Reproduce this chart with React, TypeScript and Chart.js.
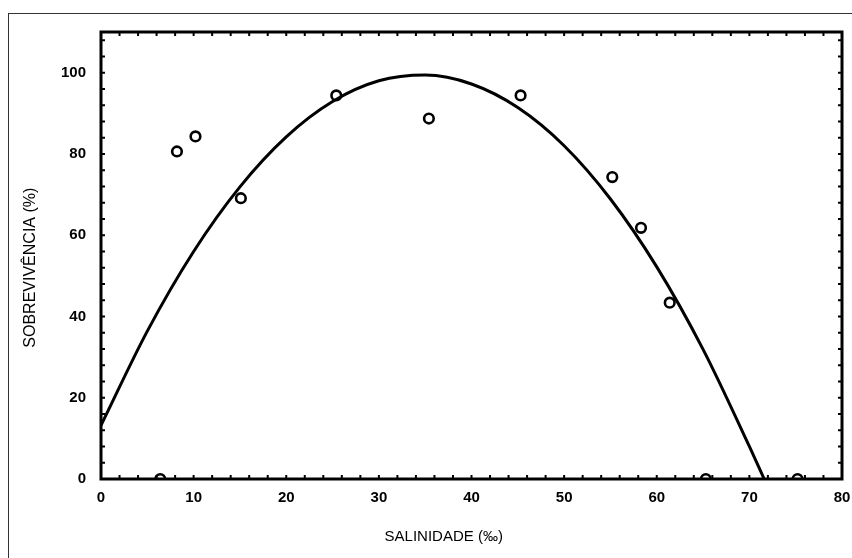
import React, { useEffect, useRef } from "react";
import { Chart, registerables } from "chart.js";

Chart.register(...registerables);

// Observed survival (%) by salinity (‰)
const salinityObs = [6.4, 8.2, 10.2, 15.1, 25.4, 35.4, 45.3, 55.2, 58.3, 61.4, 65.3, 75.2];
const survivalObs = [0, 80.6, 84.3, 69.1, 94.4, 88.7, 94.4, 74.3, 61.8, 43.4, 0, 0];

// Fitted curve
const curveX = [0, 5, 10, 15, 20, 25, 30, 35, 40, 45, 50, 55, 60, 65, 70, 71.6];
const curveY = [13.2, 36.4, 56.0, 71.9, 84.2, 92.9, 98.0, 99.4, 97.2, 91.4, 82.0, 68.9, 52.2, 31.9, 8.0, 0];

const xTitle = "SALINIDADE (‰)";
const yTitle = "SOBREVIVÊNCIA (%)";
const xMin = 0, xMax = 80, xStep = 10, xMinorStep = 2;
const yMin = 0, yMax = 110, yStep = 20, yMinorStep = 4;

const framePlugin = {
  id: "framePlugin",
  beforeDraw(chart: any) {
    const ctx = chart.ctx;
    ctx.save();
    ctx.fillStyle = "#ffffff";
    ctx.fillRect(0, 0, chart.width, chart.height);
    ctx.strokeStyle = "#333333";
    ctx.lineWidth = 1;
    ctx.strokeRect(8.5, 13.5, chart.width + 20, chart.height + 20);
    ctx.restore();
  },
  afterDatasetsDraw(chart: any) {
    const ctx = chart.ctx;
    const a = chart.chartArea;
    const xs = chart.scales.x;
    const ys = chart.scales.y;
    ctx.save();
    ctx.strokeStyle = "#000000";
    // inner minor/major ticks
    ctx.lineWidth = 2;
    ctx.beginPath();
    for (let v = xMin; v <= xMax; v += xMinorStep) {
      const px = xs.getPixelForValue(v);
      ctx.moveTo(px, a.bottom);
      ctx.lineTo(px, a.bottom - 4);
      ctx.moveTo(px, a.top);
      ctx.lineTo(px, a.top + 4);
    }
    for (let v = yMin; v <= yMax; v += yMinorStep) {
      const py = ys.getPixelForValue(v);
      ctx.moveTo(a.left, py);
      ctx.lineTo(a.left + 4, py);
      ctx.moveTo(a.right, py);
      ctx.lineTo(a.right - 4, py);
    }
    ctx.stroke();
    // frame
    ctx.lineWidth = 3;
    ctx.strokeRect(a.left, a.top, a.right - a.left, a.bottom - a.top);
    // axis titles
    ctx.fillStyle = "#000000";
    ctx.textAlign = "center";
    ctx.textBaseline = "middle";
    ctx.font = "15px 'Liberation Sans', Arial, sans-serif";
    ctx.fillText(xTitle, xs.getPixelForValue(37), a.bottom + 58);
    ctx.font = "16px 'Liberation Sans', Arial, sans-serif";
    ctx.translate(31, ys.getPixelForValue(52));
    ctx.rotate(-Math.PI / 2);
    ctx.fillText(yTitle, 0, 0);
    ctx.restore();
  },
};

export default function App() {
  const ref = useRef<HTMLCanvasElement | null>(null);
  useEffect(() => {
    if (!ref.current) return;
    const tickFont = { family: "'Liberation Sans', Arial, sans-serif", size: 15, weight: "bold" as const };
    const chart = new Chart(ref.current, {
      type: "scatter",
      data: {
        datasets: [
          {
            label: "curve",
            data: curveX.map((x, i) => ({ x, y: curveY[i] })),
            showLine: true,
            borderColor: "#000000",
            borderWidth: 3,
            pointRadius: 0,
            cubicInterpolationMode: "monotone",
            fill: false,
            clip: 0,
          } as any,
          {
            label: "obs",
            data: salinityObs.map((x, i) => ({ x, y: survivalObs[i] })),
            showLine: false,
            pointRadius: 4.8,
            pointBorderWidth: 2.6,
            pointBorderColor: "#000000",
            pointBackgroundColor: "#ffffff",
            clip: 0,
          } as any,
        ],
      },
      options: {
        responsive: false,
        animation: false,
        devicePixelRatio: 1,
        layout: { padding: { left: 0, top: 32, right: 10, bottom: 0 } },
        plugins: { legend: { display: false }, tooltip: { enabled: false } },
        scales: {
          x: {
            type: "linear",
            min: xMin,
            max: xMax,
            grid: { display: false, drawTicks: false },
            border: { display: false },
            ticks: { stepSize: xStep, color: "#000000", font: tickFont, padding: 10, maxRotation: 0 },
            afterFit: (s: any) => { s.height = 79; s.paddingRight = 0; s.paddingLeft = 0; },
          },
          y: {
            type: "linear",
            min: yMin,
            max: yMax,
            grid: { display: false, drawTicks: false },
            border: { display: false },
            ticks: { stepSize: yStep, includeBounds: false, color: "#000000", font: tickFont, padding: 15 },
            afterFit: (s: any) => { s.width = 101; s.paddingTop = 0; s.paddingBottom = 0; },
          },
        },
      },
      plugins: [framePlugin],
    });
    return () => chart.destroy();
  }, []);
  return (
    <div style={{ position: "fixed", left: 0, top: 0, width: 852, height: 558, overflow: "hidden", background: "#fff" }}>
      <canvas ref={ref} width={852} height={558} style={{ display: "block" }} />
    </div>
  );
}
